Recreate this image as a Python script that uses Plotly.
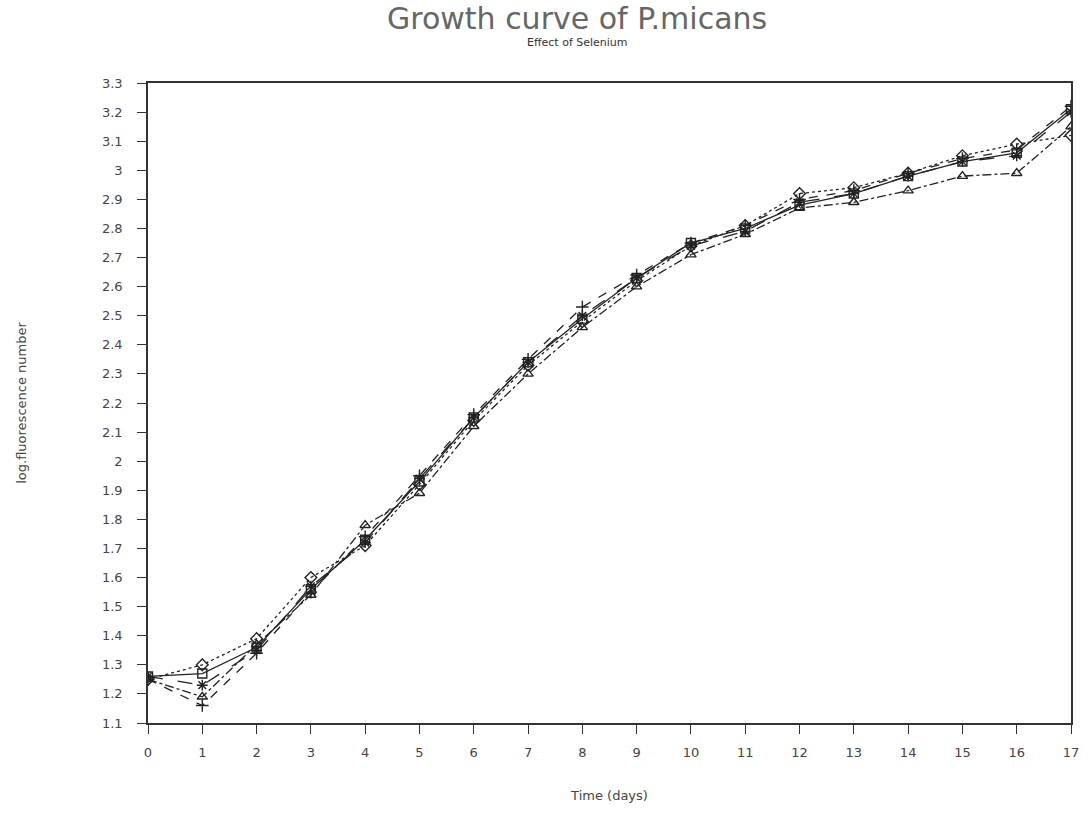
import plotly.graph_objects as go

# Sampling days
days = list(range(18))

# log fluorescence number per treatment
series_a = [1.26, 1.27, 1.36, 1.56, 1.73, 1.93, 2.15, 2.34, 2.49, 2.63, 2.75, 2.80, 2.88, 2.92, 2.98, 3.03, 3.06, 3.21]
series_b = [1.25, 1.16, 1.34, 1.55, 1.74, 1.95, 2.16, 2.35, 2.53, 2.64, 2.75, 2.81, 2.90, 2.93, 2.99, 3.04, 3.07, 3.22]
series_c = [1.25, 1.30, 1.39, 1.60, 1.71, 1.92, 2.14, 2.33, 2.48, 2.62, 2.74, 2.81, 2.92, 2.94, 2.99, 3.05, 3.09, 3.12]
series_d = [1.25, 1.19, 1.37, 1.54, 1.78, 1.89, 2.12, 2.30, 2.46, 2.60, 2.71, 2.78, 2.87, 2.89, 2.93, 2.98, 2.99, 3.15]
series_e = [1.26, 1.23, 1.35, 1.57, 1.72, 1.94, 2.15, 2.34, 2.50, 2.63, 2.74, 2.79, 2.89, 2.92, 2.98, 3.03, 3.05, 3.20]

y_ticks = [round(1.1 + 0.1 * i, 1) for i in range(23)]
y_tick_text = [("%g" % v) for v in y_ticks]

styles = [
    (series_a, "square-open", "solid"),
    (series_b, "cross-thin-open", "dash"),
    (series_c, "diamond-open", "dot"),
    (series_d, "triangle-up-open", "dashdot"),
    (series_e, "asterisk-open", "longdash"),
]

fig = go.Figure()
for vals, sym, dash in styles:
    fig.add_trace(go.Scatter(
        x=days, y=vals, mode="lines+markers",
        line=dict(color="#222", width=1.3, dash=dash),
        marker=dict(symbol=sym, size=9, color="#222",
                    line=dict(color="#222", width=1.4)),
        showlegend=False,
    ))

font_family = "DejaVu Sans"
fig.update_layout(
    width=1091, height=813,
    paper_bgcolor="white", plot_bgcolor="white",
    margin=dict(l=148, r=16, t=83, b=88),
    font=dict(family=font_family, color="#444", size=12),
    showlegend=False,
    annotations=[
        dict(text="Growth curve of P.micans", x=0.465, y=1.101, xref="paper", yref="paper",
             xanchor="center", yanchor="middle", showarrow=False,
             font=dict(size=30, color="#666", family=font_family)),
        dict(text="Effect of Selenium", x=0.465, y=1.064, xref="paper", yref="paper",
             xanchor="center", yanchor="middle", showarrow=False,
             font=dict(size=11, color="#333", family=font_family)),
    ],
)
fig.update_xaxes(
    range=[0, 17], tickmode="array", tickvals=days,
    ticks="outside", ticklen=9, tickcolor="#333", tickwidth=1.2,
    showline=True, linecolor="#333", linewidth=1.5, mirror=True,
    showgrid=False, zeroline=False, ticklabelstandoff=8,
    tickfont=dict(size=13, color="#444"),
    title=dict(text="Time (days)", font=dict(size=13, color="#444"), standoff=32),
)
fig.update_yaxes(
    range=[1.1, 3.3], tickmode="array", tickvals=y_ticks, ticktext=y_tick_text,
    ticks="outside", ticklen=9, tickcolor="#333", tickwidth=1.2,
    showline=True, linecolor="#333", linewidth=1.5, mirror=True,
    showgrid=False, zeroline=False, ticklabelstandoff=12,
    tickfont=dict(size=13, color="#444"),
    title=dict(text="log.fluorescence number", font=dict(size=13, color="#444"), standoff=72),
)

fig.write_html("out.html")
